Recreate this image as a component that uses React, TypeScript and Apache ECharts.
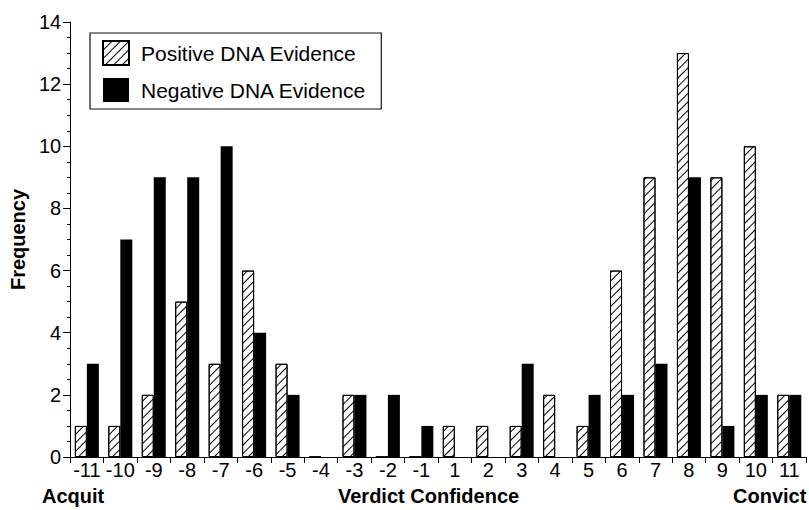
import React, { useEffect, useRef } from "react";
import * as echarts from "echarts";

const categories = ["-11", "-10", "-9", "-8", "-7", "-6", "-5", "-4", "-3", "-2", "-1", "1", "2", "3", "4", "5", "6", "7", "8", "9", "10", "11"];
const positiveDNA = [1, 1, 2, 5, 3, 6, 3, 0, 2, 0, 0, 1, 1, 1, 2, 1, 6, 9, 13, 9, 10, 2];
const negativeDNA = [3, 7, 9, 9, 10, 4, 2, 0, 2, 2, 1, 0, 0, 3, 0, 2, 2, 3, 9, 1, 2, 2];
const seriesNames = ["Positive DNA Evidence", "Negative DNA Evidence"];
const yTicks = { min: 0, max: 14, interval: 2 };

const FONT = "'Liberation Sans', Arial, Helvetica, sans-serif";

export default function App() {
  const ref = useRef<HTMLDivElement>(null);
  useEffect(() => {
    if (!ref.current) return;
    const chart = echarts.init(ref.current, null, { renderer: "svg" });
    chart.setOption({
      animation: false,
      backgroundColor: "#fff",
      textStyle: { fontFamily: FONT, color: "#000" },
      grid: { left: 68, right: 3, top: 22, bottom: 53, containLabel: false },
      legend: {
        data: seriesNames,
        orient: "vertical",
        left: 90,
        top: 33,
        icon: "rect",
        itemWidth: 26,
        itemHeight: 24,
        itemGap: 12,
        padding: [7, 15, 7, 12],
        borderColor: "#111",
        borderWidth: 1.2,
        backgroundColor: "#fff",
        selectedMode: false,
        textStyle: { fontFamily: FONT, fontSize: 21, color: "#000", padding: [0, 0, 0, 7] },
      },
      xAxis: {
        type: "category",
        data: categories,
        boundaryGap: true,
        axisLine: { lineStyle: { color: "#000", width: 1 } },
        axisTick: { show: true, alignWithLabel: false, inside: false, length: 6, lineStyle: { color: "#000" } },
        axisLabel: { fontFamily: FONT, fontSize: 20, color: "#000", margin: 3, interval: 0 },
        splitLine: { show: false },
      },
      yAxis: {
        type: "value",
        min: yTicks.min,
        max: yTicks.max,
        interval: yTicks.interval,
        name: "Frequency",
        nameLocation: "middle",
        nameRotate: 90,
        nameGap: 37,
        nameTextStyle: { fontFamily: FONT, fontSize: 20, fontWeight: "bold", color: "#000" },
        axisLine: { show: true, lineStyle: { color: "#000", width: 1 } },
        axisTick: { show: true, inside: false, length: 7, lineStyle: { color: "#000" } },
        minorTick: { show: true, splitNumber: 4, length: 3, lineStyle: { color: "#000" } },
        axisLabel: { fontFamily: FONT, fontSize: 20, color: "#000", margin: 9 },
        splitLine: { show: false },
      },
      series: [
        {
          name: seriesNames[0],
          type: "bar",
          data: positiveDNA,
          barWidth: 12,
          barGap: "0%",
          itemStyle: {
            color: "#fff",
            borderColor: "#000",
            borderWidth: 1,
            decal: {
              symbol: "rect",
              symbolSize: 1,
              color: "#000",
              backgroundColor: "#fff",
              dashArrayX: [1, 0],
              dashArrayY: [1, 5],
              rotation: -Math.PI / 4,
            },
          },
        },
        {
          name: seriesNames[1],
          type: "bar",
          data: negativeDNA,
          barWidth: 12,
          barGap: "0%",
          itemStyle: { color: "#000", borderColor: "#000", borderWidth: 0 },
        },
      ],
      graphic: [
        {
          type: "text",
          left: 42,
          top: 486,
          style: { text: "Acquit", font: `bold 20px ${FONT}`, fill: "#000" },
        },
        {
          type: "text",
          left: 338,
          top: 486,
          style: { text: "Verdict Confidence", font: `bold 20px ${FONT}`, fill: "#000" },
        },
        {
          type: "text",
          left: 733,
          top: 486,
          style: { text: "Convict", font: `bold 20px ${FONT}`, fill: "#000" },
        },
      ],
    });
    return () => chart.dispose();
  }, []);
  return (
    <div
      ref={ref}
      style={{ position: "fixed", left: 0, top: 0, width: 809, height: 510, background: "#fff" }}
    />
  );
}
